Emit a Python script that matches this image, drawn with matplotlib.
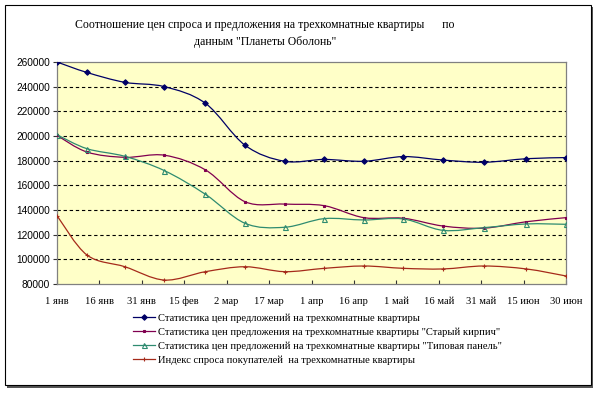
import numpy as np
import matplotlib
matplotlib.use('Agg')
import matplotlib.pyplot as plt
from matplotlib.path import Path
import matplotlib.patches as patches
from matplotlib.lines import Line2D

# days from 1 Jan for each observation
days = [0, 10.6, 24, 38, 52.5, 66.5, 80.5, 94.5, 108.5, 122.5, 136.5, 151, 166, 180]
# offer prices, all three-room flats
offer_all = [260000, 251500, 243500, 240000, 226500, 192500, 179500,
             181000, 179500, 183300, 180500, 178700, 181600, 182500]
# offer prices, "old brick"
offer_brick = [200500, 187000, 182700, 184400, 172500, 146700, 144800,
               143500, 133800, 133300, 127000, 125300, 130500, 133800]
# offer prices, "standard panel"
offer_panel = [201000, 189700, 183500, 171900, 152700, 129200, 126000,
               133000, 131900, 132700, 123500, 125700, 128700, 128400]
# buyers' demand index
demand = [135400, 103500, 94000, 83200, 90000, 94000, 90000,
          92700, 94600, 92700, 92200, 94600, 92200, 86500]

tick_days = [0, 15, 30, 45, 60, 75, 90, 105, 120, 135, 150, 165, 180]
tick_labels = ['1 янв', '16 янв', '31 янв', '15 фев', '2 мар', '17 мар', '1 апр',
               '16 апр', '1 май', '16 май', '31 май', '15 июн', '30 июн']
yticks = list(range(80000, 260001, 20000))

names = ['Статистика цен предложений на трехкомнатные квартиры',
         'Статистика цен предложения на трехкомнатные квартиры "Старый кирпич"',
         'Статистика цен предложений на трехкомнатные квартиры "Типовая панель"',
         'Индекс спроса покупателей  на трехкомнатные квартиры']


def smooth_path(x, y):
    # catmull-rom style bezier segments, like excel "smoothed line"
    x = np.asarray(x, float)
    y = np.asarray(y, float)
    verts = [(x[0], y[0])]
    codes = [Path.MOVETO]
    n = len(x)
    for i in range(n - 1):
        i0 = max(i - 1, 0)
        i3 = min(i + 2, n - 1)
        c1 = (x[i] + (x[i + 1] - x[i0]) / 6, y[i] + (y[i + 1] - y[i0]) / 6)
        c2 = (x[i + 1] - (x[i3] - x[i]) / 6, y[i + 1] - (y[i3] - y[i]) / 6)
        verts += [c1, c2, (x[i + 1], y[i + 1])]
        codes += [Path.CURVE4] * 3
    return Path(verts, codes)


fig = plt.figure(figsize=(6, 3.99), dpi=100)
fig.patch.set_facecolor('white')

# outer frame with shadow
fig.add_artist(patches.Rectangle((7 / 600, 1 - 388 / 399), 586 / 600, 381 / 399,
                                 transform=fig.transFigure, facecolor='#555555',
                                 edgecolor='none', zorder=-2))
fig.add_artist(patches.Rectangle((5 / 600, 1 - 385 / 399), 586 / 600, 380 / 399,
                                 transform=fig.transFigure, facecolor='white',
                                 edgecolor='black', linewidth=0.8, zorder=-1))

ax = fig.add_axes([57 / 600, 1 - 284 / 399, 509 / 600, 222 / 399])
ax.set_facecolor('#FFFFC8')

series = [
    (offer_all, '#000066', dict(marker='D', markersize=2.8, markerfacecolor='#000066')),
    (offer_brick, '#800050', dict(marker='s', markersize=2, markerfacecolor='#800050')),
    (offer_panel, '#2E8B70', dict(marker='^', markersize=3.6, markerfacecolor='none')),
    (demand, '#A52A1A', dict(marker='+', markersize=3.2)),
]
handles = []
for vals, col, mk in series:
    ax.add_patch(patches.PathPatch(smooth_path(days, vals), facecolor='none',
                                   edgecolor=col, linewidth=0.9, zorder=3))
    ax.plot(days, vals, linestyle='none', color=col, markeredgecolor=col,
            markeredgewidth=0.8, zorder=4, **mk)
    handles.append(Line2D([], [], color=col, linewidth=0.9, markeredgecolor=col,
                          markeredgewidth=0.8, **mk))

ax.set_xlim(0, 180)
ax.set_ylim(80000, 260000)
ax.set_yticks(yticks)
ax.set_yticklabels([str(v) for v in yticks], fontsize=7.3, family='Liberation Sans')
ax.set_xticks(tick_days)
ax.set_xticklabels(tick_labels, fontsize=7.6, family='Liberation Serif')
ax.tick_params(axis='x', direction='in', length=3, pad=9, color='#333333')
ax.tick_params(axis='y', direction='out', length=3, pad=2, color='#333333')
for yv in yticks[1:-1]:
    ax.axhline(yv, color='black', linestyle=(0, (3, 2.5)), linewidth=0.8, zorder=1)
for s in ax.spines.values():
    s.set_color('#808080')
    s.set_linewidth(0.9)

fig.text(265 / 600, 1 - 25 / 399,
         'Соотношение цен спроса и предложения на трехкомнатные квартиры      по',
         ha='center', va='center', fontsize=8.5, family='Liberation Serif')
fig.text(265 / 600, 1 - 42 / 399, 'данным "Планеты Оболонь"',
         ha='center', va='center', fontsize=8.5, family='Liberation Serif')

fig.legend(handles, names, loc='upper left', bbox_to_anchor=(128 / 600, 1 - 308 / 399),
           frameon=False, prop={'family': 'Liberation Serif', 'size': 7.6},
           handlelength=2.1, handletextpad=0.2, labelspacing=0.42, borderpad=0)

fig.savefig('out.png', dpi=100)
